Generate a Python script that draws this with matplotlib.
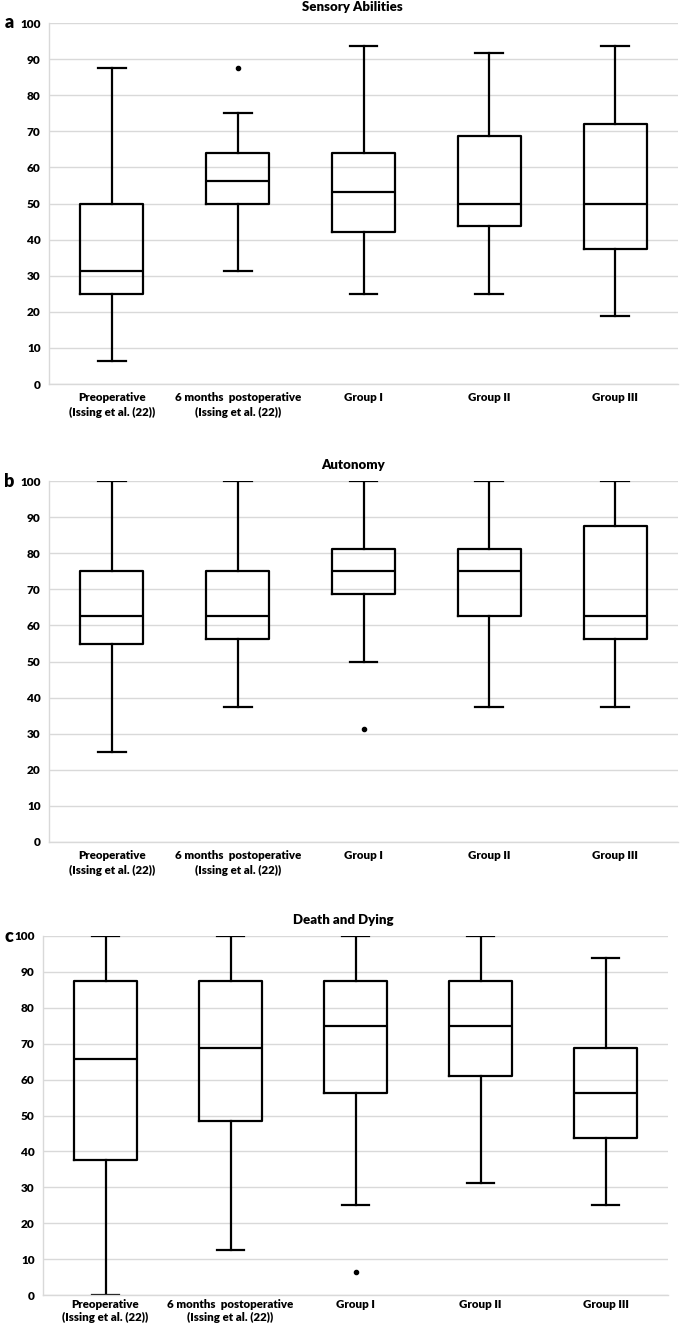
import matplotlib.pyplot as plt

plt.rcParams['font.family'] = ['Lato', 'DejaVu Sans']

groups = ["Preoperative\n(Issing et al. (22))", "6 months  postoperative\n(Issing et al. (22))",
          "Group I", "Group II", "Group III"]

# panel a - Sensory Abilities
sens_lo = [6.25, 31.25, 25.0, 25.0, 18.75]
sens_q1 = [25.0, 50.0, 42.2, 43.75, 37.5]
sens_med = [31.25, 56.25, 53.3, 50.0, 50.0]
sens_q3 = [50.0, 64.0, 64.0, 68.8, 71.9]
sens_hi = [87.5, 75.0, 93.75, 91.7, 93.75]
sens_out = [[], [87.5], [], [], []]

# panel b - Autonomy
auto_lo = [25.0, 37.5, 50.0, 37.5, 37.5]
auto_q1 = [54.9, 56.25, 68.75, 62.5, 56.25]
auto_med = [62.5, 62.5, 75.0, 75.0, 62.5]
auto_q3 = [75.0, 75.0, 81.25, 81.25, 87.5]
auto_hi = [100, 100, 100, 100, 100]
auto_out = [[], [], [31.25], [], []]

# panel c - Death and Dying
death_lo = [0.0, 12.5, 25.0, 31.25, 25.0]
death_q1 = [37.5, 48.6, 56.25, 61.0, 43.75]
death_med = [65.6, 68.9, 75.0, 75.0, 56.25]
death_q3 = [87.5, 87.5, 87.5, 87.5, 68.75]
death_hi = [100, 100, 100, 100, 93.75]
death_out = [[], [], [6.5], [], []]


def make_stats(lo, q1, med, q3, hi, out):
    stats = []
    for i in range(len(lo)):
        stats.append(dict(whislo=lo[i], q1=q1[i], med=med[i], q3=q3[i],
                          whishi=hi[i], fliers=out[i]))
    return stats


def draw_panel(ax, stats, title, title_x, xpad, lsp):
    line = dict(color="black", linewidth=1.6)
    ax.bxp(stats, positions=range(1, 6), widths=0.5, showfliers=True,
           boxprops=line, medianprops=line, whiskerprops=line,
           capprops=line, capwidths=0.22,
           flierprops=dict(marker="o", markerfacecolor="black",
                           markeredgecolor="black", markersize=3))
    ax.set_xlim(0.5, 5.5)
    ax.set_ylim(0, 100)
    ax.set_yticks(range(0, 101, 10))
    ax.set_xticks(range(1, 6))
    ax.set_xticklabels(groups, fontsize=8.3, fontweight="heavy", linespacing=lsp)
    ax.tick_params(axis="y", labelsize=8.5, length=0, pad=6)
    ax.tick_params(axis="x", length=0, pad=xpad)
    for lbl in ax.get_yticklabels():
        lbl.set_fontweight("heavy")
    ax.grid(axis="y", color="#d9d9d9", linewidth=1)
    ax.set_axisbelow(True)
    for side in ["top", "right"]:
        ax.spines[side].set_visible(False)
    for side in ["left", "bottom"]:
        ax.spines[side].set_color("#d9d9d9")
        ax.spines[side].set_linewidth(1)
    ax.text(title_x, 1.045, title, transform=ax.transAxes, ha="center",
            va="center", fontsize=9.5, fontweight="heavy")


W, H = 680, 1326
fig = plt.figure(figsize=(W / 100, H / 100), dpi=100)

# axes rectangles in pixels: left, top(100), right, bottom(0)
boxes = [(49, 23, 678, 384), (49, 481, 678, 842), (43, 936, 668, 1295)]
panels = [
    (make_stats(sens_lo, sens_q1, sens_med, sens_q3, sens_hi, sens_out), "Sensory Abilities", "a", 0.482),
    (make_stats(auto_lo, auto_q1, auto_med, auto_q3, auto_hi, auto_out), "Autonomy", "b", 0.483),
    (make_stats(death_lo, death_q1, death_med, death_q3, death_hi, death_out), "Death and Dying", "c", 0.481),
]
pads = [(6, 1.45), (6, 1.45), (3, 1.25)]

for (l, t, r, b), (stats, title, letter, tx), (xpad, lsp) in zip(boxes, panels, pads):
    ax = fig.add_axes([l / W, 1 - b / H, (r - l) / W, (b - t) / H])
    draw_panel(ax, stats, title, tx, xpad, lsp)
    fig.text(9 / W, 1 - t / H, letter, ha="center", va="center",
             fontsize=13, fontweight="heavy")

fig.savefig("out.png", dpi=100)
